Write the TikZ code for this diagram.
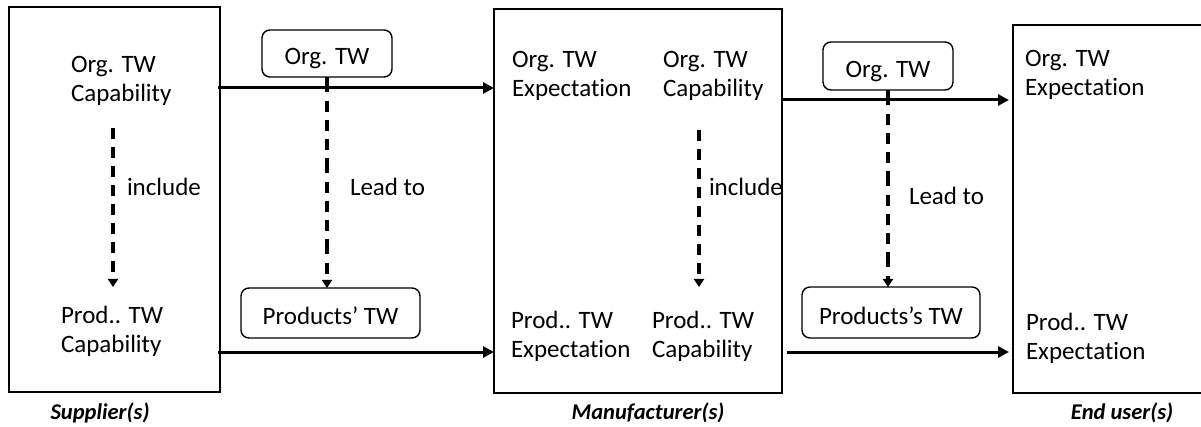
\documentclass[tikz,border=0pt]{standalone}
\usepackage{fontspec}
\setmainfont{Carlito}[Ligatures={NoCommon,NoContextual}]
\usetikzlibrary{arrows.meta}
\begin{document}
\begin{tikzpicture}[x=1pt,y=-1pt,
  party/.style={draw, line width=1.8pt, inner sep=0pt, outer sep=0pt},
  item/.style={inner sep=0pt, outer sep=0pt, align=left, anchor=north west,
    font=\fontsize{25}{29.5}\selectfont},
  tag/.style={inner sep=0pt, outer sep=0pt, anchor=west,
    font=\fontsize{25}{29.5}\selectfont},
  flowbox/.style={draw, line width=1.4pt, rounded corners=8pt, inner sep=0pt,
    outer sep=0pt, text height=23pt, text depth=0pt,
    font=\fontsize{25}{29.5}\selectfont},
  role/.style={inner sep=0pt, font=\fontsize{22.5}{26}\selectfont\bfseries\itshape},
  flow/.style={line width=3pt, -{Triangle[length=11pt,width=11pt]}},
  leads/.style={line width=3.2pt, dash pattern=on 11pt off 8pt,
    -{Triangle[length=8pt,width=10pt]}}]
\clip (0,0) rectangle (1201,427);

% the three parties
\node[party, minimum width=211pt, minimum height=385pt] (sup) at (114.5,199.5) {};
\node[party, minimum width=288pt, minimum height=384pt] (man) at (638,201) {};
\node[party, minimum width=202pt, minimum height=368pt] (end) at (1114,209) {};

% contents of the parties
\node[item] (supO) at (71,56) {Org. TW\\Capability};
\node[item] (supP) at (61,306) {Prod.. TW\\Capability};
\node[item] (manOE) at (512,51) {Org. TW\\Expectation};
\node[item] (manOC) at (663,51) {Org. TW\\Capability};
\node[item] (manPE) at (511,311) {Prod.. TW\\Expectation};
\node[item] (manPC) at (652,311) {Prod.. TW\\Capability};
\node[item] (endO) at (1025,50) {Org. TW\\Expectation};
\node[item] (endP) at (1026,313) {Prod.. TW\\Expectation};

% rounded boxes between the parties
\node[flowbox, minimum width=130pt, minimum height=47pt] (tw1) at (327,53.5) {Org. TW};
\node[flowbox, minimum width=179pt, minimum height=50pt] (ptw1) at (330.5,313) {Products’ TW};
\node[flowbox, minimum width=130pt, minimum height=48pt] (tw2) at (888,66) {Org. TW};
\node[flowbox, minimum width=178pt, minimum height=51pt] (ptw2) at (891,312.5) {Products’s TW};

% party names
\node[role] (supL) at (100,413) {Supplier(s)};
\node[role] (manL) at (648,413) {Manufacturer(s)};
\node[role] (endL) at (1122,413) {End user(s)};

% horizontal flows
\coordinate (f1a) at (218,88);   \coordinate (f1b) at (494,88);
\coordinate (f2a) at (218,352);  \coordinate (f2b) at (494,352);
\coordinate (f3a) at (783,100);  \coordinate (f3b) at (1009,100);
\coordinate (f4a) at (787,352);  \coordinate (f4b) at (1009,352);
\draw[flow] (f1a) -- (f1b);
\draw[flow] (f2a) -- (f2b);
\draw[flow] (f3a) -- (f3b);
\draw[flow] (f4a) -- (f4b);

% dashed relations
\coordinate (i1a) at (113,128);  \coordinate (i1b) at (113,287);
\coordinate (i2a) at (699,130);  \coordinate (i2b) at (699,287);
\draw[leads] (i1a) -- (i1b);
\draw[leads] (i2a) -- (i2b);
\draw[leads, dash pattern=on 15pt off 9pt on 11pt off 8pt on 11pt off 8pt on 11pt off 8pt]
  (tw1.south -| 327,0) -- (ptw1.north -| 327,0);
\draw[leads, dash pattern=on 15pt off 9pt on 11pt off 8pt on 11pt off 8pt on 11pt off 8pt]
  (tw2.south) -- (ptw2.north -| tw2.south);

% relation labels
\node[tag] (inc1) at (127,187) {include};
\node[tag] (lead1) at (350,187) {Lead to};
\node[tag] (inc2) at (709,187) {include};
\node[tag] (lead2) at (909,196) {Lead to};
\end{tikzpicture}
\end{document}
